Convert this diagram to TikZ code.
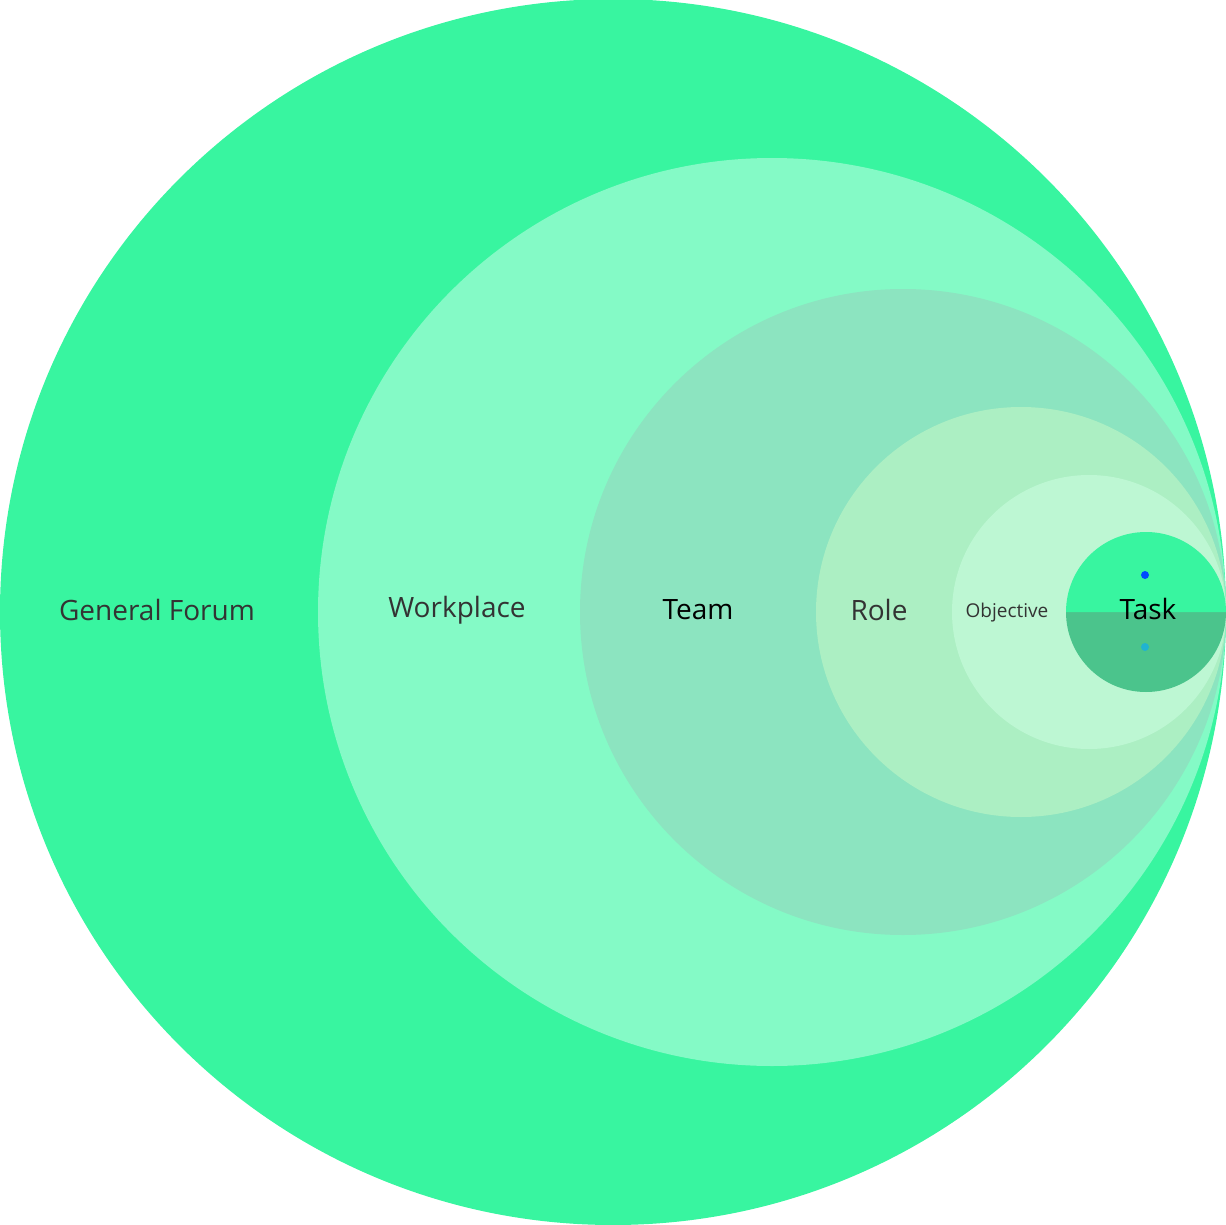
\documentclass[tikz,border=0pt]{standalone}
\usepackage{fontspec}
\setmainfont{Open Sans}
\definecolor{c1}{HTML}{38F5A0}
\definecolor{c2}{HTML}{84FAC6}
\definecolor{c3}{HTML}{8CE4C0}
\definecolor{c4}{HTML}{ACEFC3}
\definecolor{c5}{HTML}{BDF7D3}
\definecolor{c6}{HTML}{4BC48C}
\definecolor{tx}{HTML}{333333}
\tikzset{lbl/.style={text=tx,font=\fontsize{28}{32}\selectfont,inner sep=0pt}}
\begin{document}
\begin{tikzpicture}[x=1pt,y=-1pt]
\useasboundingbox (0,0) rectangle (1226,1225);
\fill[c1] (613,612) circle (613);
\fill[c2] (772,612) circle (454);
\fill[c3] (903,612) circle (323);
\fill[c4] (1021,612) circle (205);
\fill[c5] (1089,612) circle (137);
\fill[c6] (1066,612) arc[start angle=180,end angle=0,radius=80] -- cycle;
\fill[c1] (1066,612) arc[start angle=180,end angle=360,radius=80] -- cycle;
\fill[blue!70!cyan] (1145,575) circle (4);
\fill[cyan!50!c1] (1145,647) circle (4);
\node[lbl] (gf) at (157,610) {General Forum};
\node[lbl] (wp) at (457,610) {Workplace};
\node[lbl,text=black] (tm) at (698,610) {Team};
\node[lbl] (rl) at (879,610) {Role};
\node[lbl,font=\fontsize{19}{22}\selectfont] (ob) at (1007,613) {Objective};
\node[lbl,text=black] (tk) at (1148,609) {Task};
\end{tikzpicture}
\end{document}
